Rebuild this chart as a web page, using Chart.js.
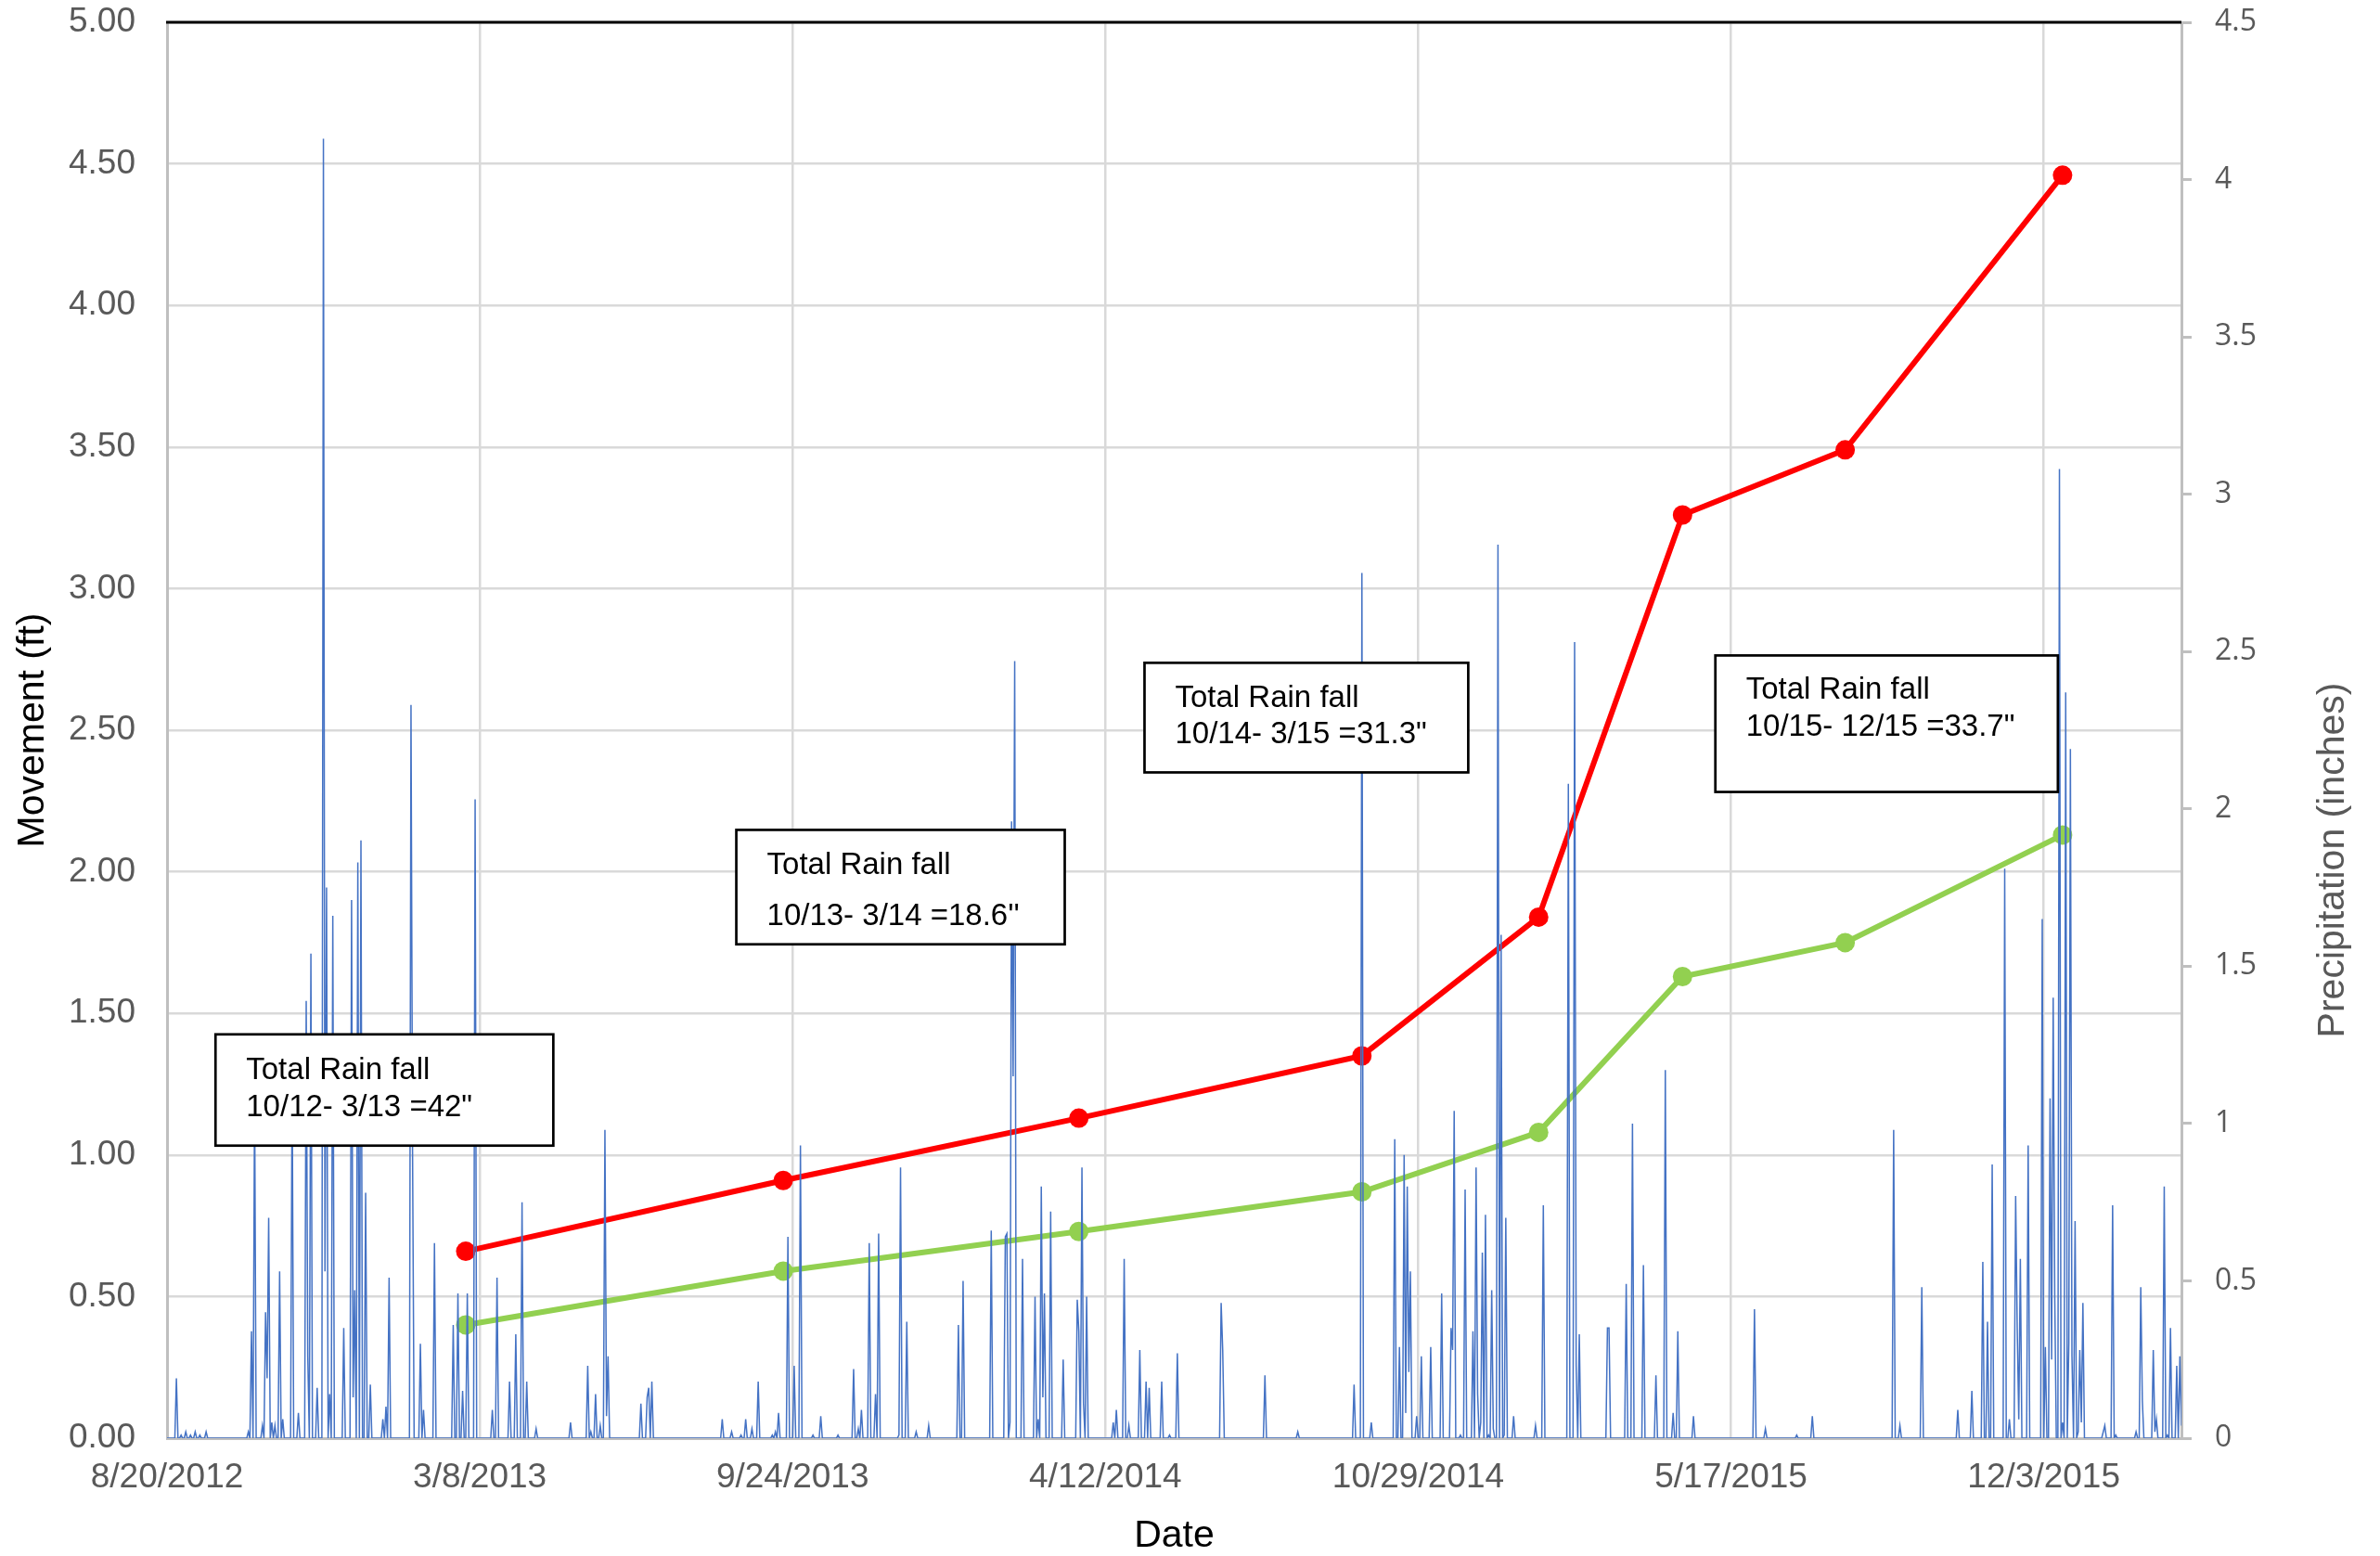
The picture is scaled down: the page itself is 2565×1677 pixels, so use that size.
<!DOCTYPE html>
<html>
<head>
<meta charset="utf-8">
<script src="https://cdn.jsdelivr.net/npm/chart.js@4.4.0/dist/chart.umd.min.js"></script>
<style>
body{margin:0;background:#fff}
#c{display:block}
</style>
</head>
<body>
<canvas id="c" width="2565" height="1677"></canvas>
<script>
// axis range + date tick labels
var startDate = '8/20/2012';
var endDate = '2/29/2016';
var dateTicks = ['8/20/2012','3/8/2013','9/24/2013','4/12/2014','10/29/2014','5/17/2015','12/3/2015'];

// survey dates and movement (ft)
var moveDates = ['2/27/2013','9/18/2013','3/26/2014','9/23/2014','1/14/2015','4/16/2015','7/29/2015','12/15/2015'];
var moveRed   = [0.66, 0.91, 1.13, 1.35, 1.84, 3.26, 3.49, 4.46];
var moveGreen = [0.40, 0.59, 0.73, 0.87, 1.08, 1.63, 1.75, 2.13];

// daily precipitation (inches), days counted from startDate, dry days are 0
var rainDay = [6,9,12,15,18,21,25,
  52,54,56,61,63,64,65,67,69,72,74,80,84,89,90,92,96,100,101,102,104,106,113,118,119,120,122,124,127,130,138,140,142,156,157,162,164,171,183,186,189,192,197,208,211,219,223,227,230,236,
  258,269,271,274,277,280,281,282,303,307,308,310,
  355,361,367,370,374,378,387,389,391,397,401,405,413,418,429,439,442,444,449,453,455,468,469,473,479,487,506,509,
  527,536,537,539,540,541,542,547,555,557,559,560,561,565,573,582,583,585,586,588,605,607,612,615,622,626,628,636,641,646,674,675,702,723,759,764,770,
  785,788,791,792,793,794,795,799,802,808,815,821,822,823,827,830,835,837,838,840,841,843,845,847,848,851,853,855,856,861,875,880,896,900,901,903,921,922,933,937,944,952,958,963,966,976,1015,1022,1042,1052,
  1104,1108,1122,1145,1154,1161,1164,1167,1175,1178,1182,1183,1184,1185,1190,1199,1201,1204,1205,1206,1207,1210,1212,1214,1216,1217,1218,1220,1222,1223,1224,1225,1238,1239,1244,1246,1259,1262,1263,1270,1271,1272,1277,1279,1281,1285,1287,1288];
var rainIn = [0.19,0.01,0.02,0.01,0.02,0.01,0.02,
  0.02,0.34,1.10,0.04,0.40,0.19,0.70,0.05,0.04,0.53,0.06,1.15,0.08,1.39,0.26,1.54,0.16,4.13,0.53,1.75,0.14,1.66,0.35,1.71,0.13,0.47,1.83,1.90,0.78,0.17,0.06,0.10,0.51,2.33,0.91,0.30,0.09,0.62,0.36,0.46,0.15,0.46,2.03,0.09,0.51,0.18,0.33,0.75,0.18,0.03,
  0.05,0.23,0.02,0.14,0.04,0.98,0.07,0.26,0.11,0.13,0.16,0.18,
  0.06,0.02,0.01,0.06,0.03,0.18,0.01,0.02,0.08,0.64,0.23,0.93,0.01,0.07,0.01,0.22,0.03,0.09,0.62,0.14,0.65,0.01,0.86,0.37,0.02,0.04,0.36,0.50,
  0.66,0.64,0.65,0.05,1.96,1.15,2.47,0.57,0.45,0.06,0.80,0.13,0.46,0.72,0.25,0.44,0.34,0.86,0.11,0.45,0.05,0.09,0.57,0.04,0.28,0.18,0.16,0.18,0.01,0.27,0.43,0.28,0.20,0.02,0.17,2.75,0.05,
  0.95,0.29,0.90,0.08,0.80,0.21,0.53,0.07,0.26,0.29,0.46,0.35,0.28,1.04,0.01,0.79,0.34,0.86,0.14,0.05,0.59,0.71,0.01,0.47,0.03,2.84,1.60,0.01,0.70,0.07,0.04,0.74,2.08,2.53,0.23,0.33,0.35,0.35,0.49,1.00,0.55,0.20,1.17,0.08,0.34,0.07,0.41,0.03,0.01,0.07,
  0.98,0.04,0.48,0.09,0.15,0.56,0.37,0.87,1.81,0.06,0.77,0.35,0.06,0.57,0.93,1.65,0.29,1.08,0.25,1.40,0.45,3.08,0.05,2.37,0.30,2.19,0.26,0.69,0.02,0.28,0.05,0.43,0.02,0.04,0.74,0.01,0.02,0.48,0.12,0.28,0.02,0.06,0.80,0.01,0.35,0.23,0.26,0.04];

// text boxes
var noteText = [
  ['Total Rain fall', '10/12- 3/13 =42"'],
  ['Total Rain fall', "10/13- 3/14 =18.6''"],
  ['Total Rain fall', '10/14- 3/15 =31.3"'],
  ['Total Rain fall', '10/15- 12/15 =33.7"']
];
// box placement in axis units: day left, day right, ft top, ft bottom
var noteBox = [[31, 247, 1.426, 1.033], [364, 574, 2.148, 1.744], [625, 832, 2.738, 2.351], [990, 1209, 2.764, 2.282]];
var noteLines = [[48, 88], [48, 103], [48, 87], [47, 87]];

function parseDay(s) {
  var p = s.split('/');
  return Date.UTC(+p[2], +p[0] - 1, +p[1]);
}
var t0 = parseDay(startDate);
function dayOf(s) { return Math.round((parseDay(s) - t0) / 86400000); }
function fmtDay(v) {
  var d = new Date(t0 + v * 86400000);
  return (d.getUTCMonth() + 1) + '/' + d.getUTCDate() + '/' + d.getUTCFullYear();
}

var lastDay = dayOf(endDate);
var rainMap = {};
rainDay.forEach(function (d, i) { rainMap[d] = rainIn[i]; });
var rainPts = [];
for (var d = 0; d <= lastDay; d++) rainPts.push({x: d, y: rainMap[d] || 0});

var redPts = moveDates.map(function (s, i) { return {x: dayOf(s), y: moveRed[i]}; });
var greenPts = moveDates.map(function (s, i) { return {x: dayOf(s), y: moveGreen[i]}; });

var FONT = 'Liberation Sans';

// no label overflow padding, the plot box is set by hand
function noPad(ax) {
  ax.paddingTop = 0; ax.paddingBottom = 0;
  ax.paddingLeft = 0; ax.paddingRight = 0;
}

var extras = {
  id: 'extras',
  afterDraw: function (chart) {
    var ctx = chart.ctx, a = chart.chartArea, sx = chart.scales.x, sy = chart.scales.y;
    ctx.save();
    // black top edge
    ctx.strokeStyle = '#000';
    ctx.lineWidth = 3;
    ctx.beginPath();
    ctx.moveTo(a.left - 1, a.top);
    ctx.lineTo(a.right, a.top);
    ctx.stroke();

    // rainfall boxes
    noteBox.forEach(function (b, i) {
      var l = sx.getPixelForValue(b[0]), r = sx.getPixelForValue(b[1]);
      var t = sy.getPixelForValue(b[2]), bt = sy.getPixelForValue(b[3]);
      ctx.fillStyle = '#fff';
      ctx.fillRect(l, t, r - l, bt - t);
      ctx.strokeStyle = '#000';
      ctx.lineWidth = 2.7;
      ctx.strokeRect(l, t, r - l, bt - t);
      ctx.fillStyle = '#000';
      ctx.font = '33px "' + FONT + '"';
      ctx.textAlign = 'left';
      ctx.textBaseline = 'alphabetic';
      ctx.fillText(noteText[i][0], l + 33, t + noteLines[i][0]);
      ctx.fillText(noteText[i][1], l + 33, t + noteLines[i][1]);
    });

    // axis titles
    ctx.font = '41px "' + FONT + '"';
    ctx.textAlign = 'center';
    ctx.textBaseline = 'middle';
    ctx.fillStyle = '#000';
    ctx.fillText('Date', (a.left + a.right) / 2, 1656);
    ctx.save();
    ctx.translate(36, (a.top + a.bottom) / 2);
    ctx.rotate(-Math.PI / 2);
    ctx.fillText('Movement (ft)', 0, 0);
    ctx.restore();
    ctx.save();
    ctx.translate(2515, 927);
    ctx.rotate(-Math.PI / 2);
    ctx.fillStyle = '#595959';
    ctx.fillText('Precipitation (inches)', 0, 0);
    ctx.restore();
    ctx.restore();
  }
};

new Chart(document.getElementById('c'), {
  type: 'line',
  data: {
    datasets: [
      {
        label: 'Precipitation',
        data: rainPts,
        yAxisID: 'y2',
        borderColor: '#4472C4',
        borderWidth: 1.5,
        pointRadius: 0,
        tension: 0,
        order: 0
      },
      {
        label: 'Movement A',
        data: redPts,
        yAxisID: 'y',
        borderColor: '#FF0000',
        backgroundColor: '#FF0000',
        borderWidth: 6,
        pointRadius: 10.5,
        pointBorderWidth: 0,
        pointBackgroundColor: '#FF0000',
        tension: 0,
        order: 1
      },
      {
        label: 'Movement B',
        data: greenPts,
        yAxisID: 'y',
        borderColor: '#92D050',
        backgroundColor: '#92D050',
        borderWidth: 6,
        pointRadius: 10.5,
        pointBorderWidth: 0,
        pointBackgroundColor: '#92D050',
        tension: 0,
        order: 2
      }
    ]
  },
  options: {
    responsive: false,
    animation: false,
    layout: {padding: {top: 24, left: 0, right: 0, bottom: 0}},
    plugins: {legend: {display: false}, tooltip: {enabled: false}},
    scales: {
      x: {
        type: 'linear',
        min: 0,
        max: lastDay,
        afterBuildTicks: function (ax) {
          ax.ticks = dateTicks.map(function (s) { return {value: dayOf(s)}; });
        },
        afterFit: function (ax) { ax.height = 127; noPad(ax); },
        ticks: {
          callback: function (v) { return fmtDay(v); },
          font: {family: FONT, size: 37},
          color: '#595959',
          padding: 21,
          maxRotation: 0,
          autoSkip: false
        },
        grid: {color: '#d9d9d9', lineWidth: 2.5, drawTicks: false},
        border: {color: '#bfbfbf', width: 3}
      },
      y: {
        position: 'left',
        min: 0,
        max: 5,
        afterFit: function (ax) { ax.width = 180; noPad(ax); },
        ticks: {
          stepSize: 0.5,
          callback: function (v) { return v.toFixed(2); },
          font: {family: FONT, size: 37},
          color: '#595959',
          padding: 34
        },
        grid: {color: '#d9d9d9', lineWidth: 2.5, drawTicks: false},
        border: {color: '#bfbfbf', width: 3}
      },
      y2: {
        position: 'right',
        min: 0,
        max: 4.5,
        afterFit: function (ax) { ax.width = 214; noPad(ax); },
        ticks: {
          stepSize: 0.5,
          callback: function (v) { return String(Math.round(v * 10) / 10); },
          font: {family: 'Open Sans', size: 32},
          color: '#595959',
          padding: 25
        },
        grid: {drawOnChartArea: false, color: '#bfbfbf', lineWidth: 3, tickLength: 11},
        border: {color: '#bfbfbf', width: 3}
      }
    }
  },
  plugins: [extras]
});
</script>
</body>
</html>
